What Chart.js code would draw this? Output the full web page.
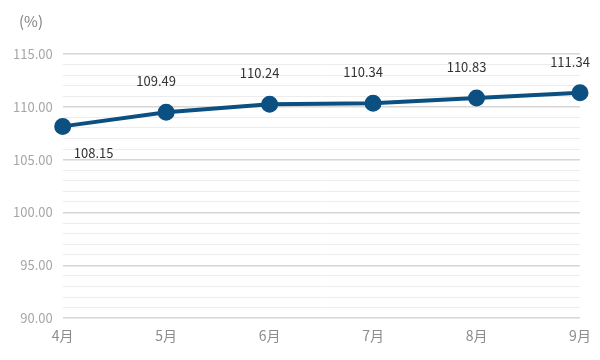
<!DOCTYPE html>
<html>
<head>
<meta charset="utf-8">
<script src="https://cdn.jsdelivr.net/npm/chart.js@4/dist/chart.umd.min.js"></script>
<style>
  html, body { margin: 0; padding: 0; background: #fff; }
  #wrap { width: 600px; height: 360px; }
</style>
</head>
<body>
<div id="wrap"><canvas id="myChart"></canvas></div>
<script>
var months = ["4月", "5月", "6月", "7月", "8月", "9月"]
var values = [108.15, 109.49, 110.24, 110.34, 110.83, 111.34]
var unitLabel = "(%)"

// unit text top-left + value labels (first one sits under the point)
var valueLabels = {
	id: 'valueLabels',
	afterDatasetsDraw: function (chart) {
		var ctx = chart.ctx
		var meta = chart.getDatasetMeta(0)
		ctx.save()
		ctx.font = '15px "Noto Sans CJK SC", "Noto Sans", sans-serif'
		ctx.fillStyle = '#808080'
		ctx.textAlign = 'left'
		ctx.textBaseline = 'middle'
		ctx.fillText(unitLabel, 19, 21)

		ctx.font = '13px "Noto Sans CJK SC", "Noto Sans", sans-serif'
		ctx.fillStyle = '#333333'
		ctx.textAlign = 'center'
		meta.data.forEach(function (pt, i) {
			var txt = values[i].toFixed(2)
			if (i == 0) {
				ctx.fillText(txt, pt.x + 31, pt.y + 27)
			} else {
				ctx.fillText(txt, pt.x - 10, pt.y - 31)
			}
		})
		ctx.restore()
	}
}

var ctxL = document.getElementById('myChart').getContext('2d')
var myLineChart = new Chart(ctxL, {
	type: 'line',
	data: {
		labels: months,
		datasets: [{
			data: values,
			borderColor: '#0b5081',
			backgroundColor: '#0b5081',
			borderWidth: 4,
			pointRadius: 6.5,
			pointHoverRadius: 6.5,
			tension: 0
		}]
	},
	options: {
		responsive: true,
		maintainAspectRatio: false,
		animation: false,
		layout: { padding: { left: 3, right: 20, top: 54, bottom: 15 } },
		plugins: {
			legend: { display: false },
			tooltip: { enabled: false }
		},
		scales: {
			x: {
				offset: false,
				grid: { display: false },
				border: { display: false },
				ticks: {
					color: '#8c8c8c',
					font: { size: 14, family: '"Noto Sans CJK SC", sans-serif' },
					padding: 1
				}
			},
			y: {
				min: 90,
				max: 115,
				border: { display: false },
				grid: {
					drawTicks: false,
					color: function (c) {
						return c.tick.value % 5 === 0 ? '#d6d6d6' : '#ececec'
					},
					lineWidth: function (c) {
						return c.tick.value % 5 === 0 ? 1.5 : 1
					}
				},
				ticks: {
					stepSize: 1,
					autoSkip: false,
					padding: 10,
					color: '#a6a6a6',
					font: { size: 13, family: '"Noto Sans CJK SC", sans-serif' },
					callback: function (v) {
						return v % 5 === 0 ? v.toFixed(2) : ''
					}
				}
			}
		}
	},
	plugins: [valueLabels]
})
</script>
</body>
</html>
